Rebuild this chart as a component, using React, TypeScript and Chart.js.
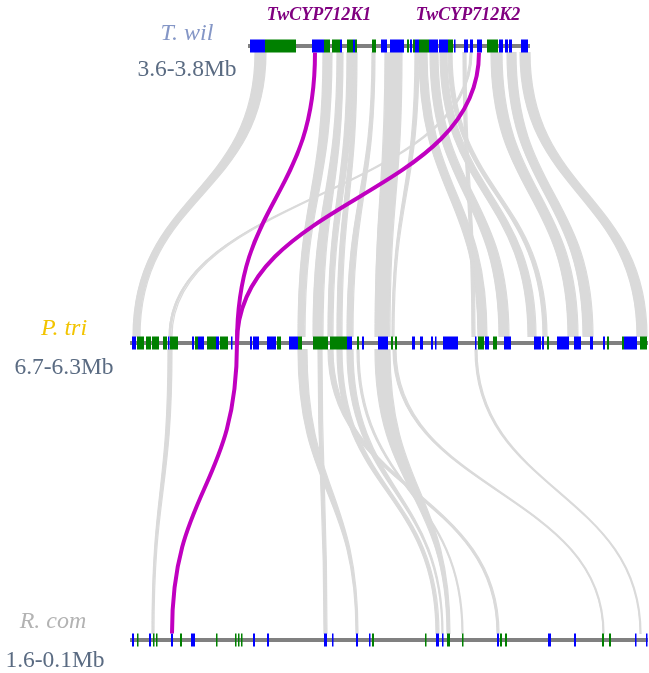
import React, { useEffect, useRef } from 'react';
import { Chart, registerables } from 'chart.js';

Chart.register(...registerables);

const W = 649;
const H = 673;

// Track descriptions
const trackNames = ['T. wil', 'P. tri', 'R. com'];
const trackRanges = ['3.6-3.8Mb', '6.7-6.3Mb', '1.6-0.1Mb'];
const trackNameColors = ['#8496c6', '#f2c400', '#b3b3b3'];
const geneLabels = ['TwCYP712K1', 'TwCYP712K2'];
const geneLabelX = [319, 468];

// Chromosome spans (x units)
const twilSpan = [248, 530];
const ptriSpan = [130, 648];
const rcomSpan = [130, 648];

// Genes: [start, end, strand]  '+' = blue, '-' = green
const twilGenes: [number, number, string][] = [
  [250, 265, '+'], [265, 296, '-'], [312, 318, '+'], [318, 324, '+'], [324, 330, '-'],
  [332, 340, '-'], [340, 342, '+'], [347, 353, '-'], [353, 355, '+'], [355, 357, '-'],
  [372, 376, '-'], [381, 387, '+'], [390, 404, '+'], [407, 409, '-'], [410, 412, '+'],
  [413, 415, '-'], [415, 419, '+'], [419, 429, '-'], [429, 438, '+'], [439, 448, '+'],
  [448, 453, '-'], [454, 455, '+'], [464, 468, '+'], [470, 473, '+'], [477, 482, '+'],
  [487, 498, '-'], [499, 503, '+'], [505, 508, '+'], [509, 512, '+'], [521, 528, '+'],
];

const ptriGenes: [number, number, string][] = [
  [132, 136, '+'], [137, 144, '-'], [146, 151, '-'], [152, 159, '-'], [163, 167, '-'],
  [168, 169, '+'], [170, 178, '-'], [192, 194, '+'], [195, 198, '-'], [198, 204, '+'],
  [207, 216, '-'], [216, 219, '+'], [220, 228, '-'], [231, 232, '+'], [236, 238, '+'],
  [250, 252, '+'], [253, 259, '+'], [267, 276, '+'], [277, 281, '-'], [289, 298, '+'],
  [298, 302, '-'], [313, 328, '-'], [330, 343, '-'], [343, 347, '-'], [347, 352, '+'],
  [357, 359, '-'], [362, 364, '+'], [378, 388, '+'], [391, 393, '-'], [395, 397, '-'],
  [412, 415, '+'], [420, 423, '+'], [431, 433, '+'], [435, 436, '+'], [443, 458, '+'],
  [475, 476, '+'], [478, 484, '-'], [485, 489, '+'], [493, 497, '-'], [504, 511, '+'],
  [534, 541, '+'], [542, 544, '+'], [547, 549, '-'], [557, 569, '+'], [574, 581, '+'],
  [590, 593, '+'], [603, 605, '+'], [607, 609, '-'], [622, 624, '-'], [624, 637, '+'],
  [640, 647, '-'],
];

const rcomGenes: [number, number, string][] = [
  [132, 134, '+'], [137, 138, '-'], [149, 151, '+'], [153, 154, '-'], [156, 157, '-'],
  [171, 173, '+'], [180, 182, '-'], [191, 195, '+'], [216, 217, '-'], [235, 236, '-'],
  [238, 239, '-'], [241, 242, '-'], [253, 255, '+'], [267, 269, '+'], [324, 327, '+'],
  [332, 333, '+'], [356, 358, '+'], [369, 370, '+'], [372, 374, '-'], [425, 426, '-'],
  [436, 439, '+'], [442, 443, '+'], [447, 450, '-'], [462, 463, '-'], [497, 499, '+'],
  [500, 502, '-'], [505, 507, '-'], [548, 551, '+'], [574, 576, '+'], [602, 604, '-'],
  [609, 611, '-'], [635, 636, '+'], [646, 647, '+'],
];

// Links: [srcStart, srcEnd, dstStart, dstEnd]
const twilPtriLinks: [number, number, number, number][] = [
  [255, 266, 133, 140],
  [470, 472, 169, 172],
  [323, 332, 298, 305],
  [337, 343, 313, 323],
  [347, 353, 328, 333],
  [353, 357, 337, 342],
  [372, 375, 347, 353],
  [385, 402, 375, 390],
  [415, 419, 392, 394],
  [419, 427, 478, 487],
  [430, 438, 499, 509],
  [440, 447, 528, 536],
  [448, 452, 543, 547],
  [463, 466, 472, 475],
  [491, 502, 568, 578],
  [507, 516, 583, 593],
  [520, 530, 637, 647],
];

const ptriRcomLinks: [number, number, number, number][] = [
  [168, 172, 152, 154],
  [298, 307, 356, 358],
  [318, 322, 324, 327],
  [328, 333, 497, 499],
  [337, 342, 436, 439],
  [347, 353, 442, 443],
  [357, 359, 462, 463],
  [375, 390, 447, 450],
  [393, 396, 603, 604],
  [475, 477, 640, 641],
];

// Highlighted CYP712K links: [srcCenter, dstCenter, level]
const highlightLinks: [number, number, number][] = [
  [315, 237, 0],
  [479, 237, 0],
  [237, 172, 1],
];

const TRACK_Y = [46, 343, 640];
const HALF_BLOCK = 6.5;

const syntenyPlugin = {
  id: 'synteny',
  beforeDatasetsDraw(chart: any) {
    const { ctx, scales } = chart;
    const xs = scales.x;
    const ys = scales.y;
    const px = (v: number) => xs.getPixelForValue(v);
    const py = (v: number) => ys.getPixelForValue(v);
    ctx.save();
    ctx.fillStyle = '#dadada';
    ctx.strokeStyle = '#dadada';
    ctx.lineWidth = 1.2;
    const drawSet = (links: [number, number, number, number][], lvl: number) => {
      const ya = py(TRACK_Y[lvl] + HALF_BLOCK);
      const yb = py(TRACK_Y[lvl + 1] - HALF_BLOCK);
      const ym = (ya + yb) / 2;
      links.forEach(([a1, a2, b1, b2]) => {
        ctx.beginPath();
        ctx.moveTo(px(a1), ya);
        ctx.bezierCurveTo(px(a1), ym, px(b1), ym, px(b1), yb);
        ctx.lineTo(px(b2), yb);
        ctx.bezierCurveTo(px(b2), ym, px(a2), ym, px(a2), ya);
        ctx.closePath();
        ctx.fill();
        ctx.stroke();
      });
    };
    drawSet(twilPtriLinks, 0);
    drawSet(ptriRcomLinks, 1);
    ctx.restore();
  },
  afterDatasetsDraw(chart: any) {
    const { ctx, scales } = chart;
    const xs = scales.x;
    const ys = scales.y;
    const px = (v: number) => xs.getPixelForValue(v);
    const py = (v: number) => ys.getPixelForValue(v);
    ctx.save();
    // gene blocks
    const allGenes = [twilGenes, ptriGenes, rcomGenes];
    allGenes.forEach((genes, i) => {
      const y0 = py(TRACK_Y[i] - HALF_BLOCK);
      const y1 = py(TRACK_Y[i] + HALF_BLOCK);
      genes.forEach(([s, e, strand]) => {
        const x0 = px(s);
        const x1 = px(e);
        ctx.fillStyle = strand === '+' ? '#0000ff' : '#008000';
        ctx.fillRect(x0, y0, Math.max(1.5, x1 - x0), y1 - y0);
      });
    });
    // highlighted links
    ctx.strokeStyle = '#c000c0';
    ctx.lineWidth = 4;
    ctx.lineCap = 'butt';
    highlightLinks.forEach(([a, b, lvl]) => {
      const ya = lvl === 0 ? py(TRACK_Y[0] + HALF_BLOCK) : py(TRACK_Y[1]);
      const yb = lvl === 0 ? py(TRACK_Y[1]) : py(TRACK_Y[2] - HALF_BLOCK);
      const ym = (ya + yb) / 2;
      ctx.beginPath();
      ctx.moveTo(px(a), ya);
      ctx.bezierCurveTo(px(a), ym, px(b), ym, px(b), yb);
      ctx.stroke();
    });
    // labels
    ctx.textAlign = 'center';
    ctx.textBaseline = 'middle';
    ctx.fillStyle = '#800080';
    ctx.font = 'italic bold 18px "Liberation Serif", serif';
    geneLabels.forEach((t, i) => ctx.fillText(t, px(geneLabelX[i]), py(15)));

    const nameX = [187, 64, 53];
    const nameY = [34, 329, 622];
    const rangeX = [187, 64, 55];
    const rangeY = [70, 368, 661];
    trackNames.forEach((t, i) => {
      ctx.font = 'italic 24px "Liberation Serif", serif';
      ctx.fillStyle = trackNameColors[i];
      ctx.fillText(t, px(nameX[i]), py(nameY[i]));
      ctx.font = '23.5px "Liberation Serif", serif';
      ctx.fillStyle = '#5a6b82';
      ctx.fillText(trackRanges[i], px(rangeX[i]), py(rangeY[i]));
    });
    ctx.restore();
  },
};

export default function App() {
  const ref = useRef<HTMLCanvasElement | null>(null);
  useEffect(() => {
    if (!ref.current) return;
    const spans = [twilSpan, ptriSpan, rcomSpan];
    const chart = new Chart(ref.current, {
      type: 'scatter',
      data: {
        datasets: spans.map((s, i) => ({
          label: trackNames[i],
          data: [
            { x: s[0], y: TRACK_Y[i] },
            { x: s[1], y: TRACK_Y[i] },
          ],
          showLine: true,
          borderColor: '#808080',
          borderWidth: 4,
          pointRadius: 0,
          fill: false,
        })),
      },
      options: {
        animation: false,
        responsive: false,
        maintainAspectRatio: false,
        layout: { padding: 0 },
        events: [],
        scales: {
          x: { type: 'linear', min: 0, max: W, display: false },
          y: { type: 'linear', min: 0, max: H, reverse: true, display: false },
        },
        plugins: {
          legend: { display: false },
          tooltip: { enabled: false },
        },
      },
      plugins: [syntenyPlugin],
    });
    return () => chart.destroy();
  }, []);
  return (
    <div style={{ position: 'absolute', left: 0, top: 0, width: W, height: H, background: '#ffffff' }}>
      <canvas ref={ref} width={W} height={H} style={{ display: 'block' }} />
    </div>
  );
}
